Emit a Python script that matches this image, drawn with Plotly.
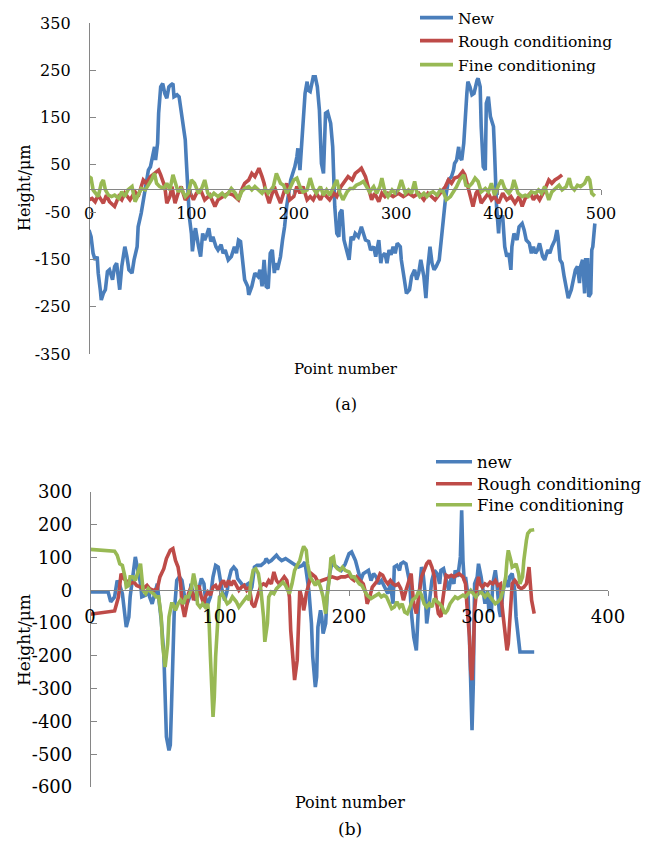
import plotly.graph_objects as go

# ---------------- (a) data ----------------
a_new_x = [0,2,4,6,8,9,11,12,14,16,18,20,23,25,27,29,30,32,35,37,39,42,44,47,48,51,53,55,58,60,
           62,64,65,67,68,70,72,74,76,78,80,82,83,86,88,90,92,94,95,97,98,100,101,103,104,107,109,111,113,115,
           117,119,121,124,126,129,131,133,136,139,142,144,146,148,151,152,155,156,159,162,165,167,169,171,173,175,177,179,181,182,
           184,187,189,191,193,195,197,200,201,203,204,206,208,209,211,213,214,216,217,219,221,223,225,226,227,229,230,231,233,234,
           236,238,239,240,242,244,245,247,249,252,254,256,258,260,263,266,268,270,273,275,278,280,283,285,286,289,291,293,295,297,
           299,301,304,305,308,310,313,315,318,320,322,324,327,329,331,333,335,337,339,342,344,346,348,351,354,356,357,359,361,362,
           364,366,367,369,370,372,374,376,379,380,382,383,385,387,388,390,392,393,395,396,397,398,400,401,404,406,408,410,412,413,
           415,418,420,423,425,427,430,432,434,436,438,440,443,445,448,450,452,455,457,458,460,462,464,466,468,471,473,475,477,479,
           480,482,484,485,487,488,490,491,492,494]
a_new_y = [-88,-102,-137,-151,-144,-179,-214,-236,-222,-214,-176,-172,-193,-165,-158,-207,-214,-165,-123,-144,-172,-179,-151,-123,-81,-52,-24,4,39,46,
           67,88,60,96,159,215,222,201,191,215,219,222,194,198,194,166,138,103,60,-10,-60,-95,-133,-95,-84,-123,-144,-95,-109,-98,
           -84,-112,-102,-123,-130,-119,-137,-130,-151,-144,-123,-137,-109,-112,-179,-193,-207,-225,-207,-179,-186,-172,-207,-151,-207,-211,-137,-130,-179,-158,
           -172,-144,-109,-81,-38,-10,18,39,46,67,85,39,96,145,201,226,208,205,215,236,236,215,166,96,53,32,96,159,162,152,
           138,88,25,-38,-95,-102,-52,-45,-109,-137,-151,-102,-109,-95,-102,-81,-95,-109,-112,-130,-123,-144,-109,-158,-144,-137,-158,-130,-140,-123,
           -137,-116,-123,-151,-193,-222,-214,-186,-172,-193,-179,-151,-186,-232,-165,-123,-158,-172,-165,-151,-109,-66,-24,18,25,39,53,60,88,67,
           60,96,145,201,226,215,198,201,229,233,215,131,46,39,180,194,152,145,131,81,18,-38,-95,-60,-60,-123,-144,-137,-172,-123,
           -95,-109,-81,-74,-88,-109,-116,-137,-123,-137,-130,-116,-144,-151,-130,-137,-123,-109,-88,-102,-151,-158,-186,-207,-232,-214,-193,-172,-165,-200,
           -165,-151,-222,-151,-151,-229,-222,-130,-123,-74]

a_rough_x = [0,3,6,9,14,17,20,25,29,32,35,40,45,48,53,56,60,64,68,70,74,76,79,81,84,87,90,94,99,102,
             105,109,113,118,123,126,131,136,141,146,149,152,156,159,162,166,169,171,173,176,178,181,183,187,190,193,196,200,203,206,
             209,213,216,219,222,226,229,232,235,239,242,246,250,253,257,260,264,266,270,273,276,279,283,286,289,292,297,302,307,312,
             317,322,327,331,333,338,343,348,351,354,357,361,365,367,370,373,375,378,380,383,387,390,393,396,400,404,408,412,416,420,
             423,426,431,434,437,440,445,449,452,455,458,462]
a_rough_y = [-24,-21,-28,-14,-31,-14,-28,-38,-17,-24,-10,-24,-7,-17,18,11,25,32,39,29,4,-31,-17,4,-31,-10,4,-24,-10,-24,
             -10,-3,-24,-14,-38,-24,-17,-10,-14,-24,-3,11,18,32,25,43,25,11,-10,-31,-17,4,-10,-31,-10,11,-24,-17,4,-10,
             4,-24,-17,-24,-10,-24,-10,-17,-24,-10,-17,4,18,25,18,32,39,43,25,-3,-24,-10,-28,-10,-17,-10,-17,-10,-17,-10,
             -17,-10,-24,-10,-14,-24,-10,4,18,11,22,25,36,29,4,-24,-38,-10,-3,-31,-17,-10,-24,-17,-31,-10,-24,-17,-31,-17,
             -38,-21,-10,-24,-14,-24,-3,18,11,18,22,29]

a_fine_x = [0,2,4,7,9,12,14,16,19,22,25,29,32,35,38,42,45,48,51,55,58,61,64,66,69,73,76,79,82,85,
            87,90,94,97,100,103,107,110,113,116,119,122,126,130,133,136,139,143,146,149,152,156,159,162,165,169,172,175,180,183,
            187,190,193,196,200,203,206,209,213,216,219,222,226,229,232,235,239,242,245,248,252,255,258,261,265,268,271,274,278,281,
            284,286,289,292,296,299,302,305,309,312,315,318,320,323,327,330,333,336,340,343,346,349,353,356,359,362,366,368,371,374,
            377,380,383,387,390,393,396,400,403,406,410,413,415,419,423,426,429,432,436,439,442,445,449,452,456,459,462,466,469,471,
            474,477,480,484,487,489,491,494]
a_fine_y = [25,22,-3,-10,-17,11,18,-3,-14,-17,-14,-21,-7,-17,-3,4,-28,-14,0,-3,7,18,32,11,4,0,11,-3,29,4,
            -7,0,-17,-10,18,11,-10,0,18,-10,-17,-10,-17,-10,-17,-10,0,-10,-24,-7,0,4,-3,4,-3,-10,0,-10,4,32,
            11,7,-10,0,18,22,4,-7,-3,22,0,-10,4,-14,-3,-14,4,18,-10,-24,-7,0,0,7,11,15,4,-7,4,-10,
            4,22,-7,-17,-3,-10,-3,18,-10,-3,-10,15,-7,-17,-10,-17,-10,-7,-14,-3,-7,-24,-17,-7,4,18,29,7,4,11,
            22,15,-7,0,-7,11,-14,7,18,0,-10,0,18,-10,-17,-14,-17,-7,-10,-3,-10,4,-24,-7,0,7,-3,4,22,4,
            -3,7,4,11,25,18,-10,-16]

# ---------------- (b) data ----------------
b_new_x = [0,6,14,16,19,21,23,25,27,28,30,31,33,34,35,37,39,40,43,45,46,48,50,52,53,55,57,58,59,61,
           62,63,64,65,67,69,71,73,75,77,78,80,82,84,86,88,89,91,93,95,97,99,100,102,104,106,107,109,111,113,
           114,116,118,120,122,124,125,127,129,132,135,136,138,140,142,144,146,148,151,153,155,157,159,161,164,166,167,169,171,172,
           174,175,176,178,179,180,182,183,185,187,189,192,194,197,200,202,203,205,207,209,211,213,215,217,219,221,223,225,227,228,
           230,232,234,235,237,239,240,242,244,245,247,248,250,252,253,254,256,257,259,260,261,263,264,266,268,270,271,273,275,277,
           279,281,282,284,286,287,288,289,290,292,293,294,295,296,297,299,300,302,304,305,307,308,310,311,313,314,316,317,319,321,
           323,324,326,328,329,331,332,335,339,343]
b_new_y = [-5,-5,-5,-35,-20,30,15,-10,-71,-112,-81,-20,41,71,102,61,20,-20,-15,5,-20,-41,-10,20,-20,-91,-193,-325,-447,-488,
           -472,-346,-163,-71,30,41,30,-20,-41,-20,20,-20,-30,10,36,20,-20,-41,-20,41,76,71,41,0,-30,0,30,61,71,61,
           36,25,15,15,20,0,10,71,76,76,86,97,86,91,100,107,97,91,97,91,86,81,76,71,76,86,61,0,-101,-203,
           -295,-264,-112,-61,-81,-132,-101,-20,51,86,76,66,61,80,112,117,107,91,61,30,51,56,61,30,51,41,20,30,15,10,
           -10,20,-41,71,76,61,81,86,81,61,20,-61,-142,-183,-101,-20,71,61,-20,-101,-71,-10,30,61,51,20,61,66,30,0,
           41,20,61,41,102,244,91,30,41,-20,-142,-295,-427,-284,20,41,81,41,-10,-41,0,-61,-61,20,61,30,-61,-81,0,30,
           10,41,51,0,-81,-152,-188,-188,-188,-188]

b_rough_x = [0,9,19,22,24,26,28,31,34,36,39,41,44,46,49,52,54,57,59,62,64,66,68,70,71,73,75,76,78,80,
             82,84,86,88,89,91,93,95,97,99,101,103,105,107,109,111,113,115,117,119,121,123,125,127,130,132,134,136,138,140,
             142,144,146,148,150,152,154,155,157,158,160,161,162,164,165,166,167,169,171,174,176,179,183,187,191,194,197,200,202,204,
             206,209,211,213,214,216,218,220,222,224,226,228,230,232,234,236,238,240,242,244,246,248,249,250,252,253,254,256,258,260,
             262,264,266,267,269,271,272,274,275,277,279,281,283,285,288,290,291,293,294,295,296,297,299,300,301,303,305,307,309,311,
             313,315,317,318,320,322,323,325,326,328,330,331,333,335,337,339,340,341,343]
b_rough_y = [-73,-69,-63,-20,51,36,30,20,25,15,10,5,15,5,0,5,41,66,97,122,127,91,71,20,-41,-81,-41,-10,10,-30,
             -10,15,-20,-41,-20,-5,-15,10,15,0,20,30,10,30,15,30,15,0,10,15,0,10,-41,-51,-10,15,20,15,30,20,
             56,30,20,30,41,30,-20,-122,-224,-274,-213,-91,0,-30,-61,-41,-10,20,51,41,25,30,36,41,36,41,41,46,36,30,
             41,30,20,-10,-41,-20,10,20,30,51,46,30,20,30,20,15,20,5,-30,0,30,51,0,-41,-71,-41,0,41,61,81,
             91,71,41,-20,-71,-81,-41,20,46,41,46,41,46,51,41,20,-41,-142,-244,-274,-193,-61,20,41,20,10,20,15,25,20,
             30,15,20,-41,-112,-183,-163,-61,20,30,20,10,5,10,20,71,10,-30,-71]

b_fine_x = [0,9,19,21,23,25,27,28,30,31,33,35,37,39,40,41,43,45,47,49,51,53,55,56,58,60,61,63,64,66,
            68,70,72,74,76,78,80,82,83,85,87,89,91,92,93,94,95,96,97,99,100,102,104,106,108,110,113,115,117,119,
            121,123,124,126,128,130,132,134,135,137,138,140,142,144,147,149,151,153,154,156,158,160,162,164,165,167,168,170,172,174,
            176,178,180,182,183,185,186,188,189,191,193,195,197,200,202,204,206,208,210,212,214,217,219,221,223,225,227,229,231,233,
            235,237,239,241,243,245,247,249,252,254,256,258,260,262,264,266,268,270,272,274,276,278,280,282,284,286,288,290,292,294,
            296,298,300,302,305,307,309,311,313,315,317,319,321,322,323,325,326,328,329,331,332,334,335,337,338,340,343]
b_fine_y = [125,122,119,107,81,76,41,10,15,41,41,30,61,81,41,0,-10,5,-5,-10,-20,-20,-81,-163,-234,-163,-81,-41,-41,-61,
            -41,-30,-41,-20,-20,0,51,10,-41,-51,-41,-51,-41,-101,-203,-325,-386,-325,-203,-71,-20,-10,-25,-41,-35,-20,-35,-51,-41,-30,
            -20,-30,20,61,66,51,0,-81,-157,-101,-20,-5,-10,5,15,25,15,0,-10,20,61,76,91,122,134,122,81,41,25,15,
            30,10,-20,-71,-20,41,97,102,76,66,61,71,61,56,41,41,30,20,15,0,-15,-25,-20,-15,-10,-20,-15,-20,-41,-56,
            -51,-35,-51,-41,-66,-71,-51,-30,-20,0,-15,-41,-51,-41,-51,-25,-35,-41,-51,-71,-61,-41,-30,-20,-25,-20,-15,-20,-10,0,
            -10,-20,-10,-5,-20,-10,-20,-30,-41,-35,-25,0,41,91,122,91,71,76,81,51,20,41,91,153,173,183,185]

names_a = ["New", "Rough conditioning", "Fine conditioning"]
names_b = ["new", "Rough conditioning", "Fine conditioning"]
colors = ["#4A7EBB", "#BE4B48", "#98B954"]

a_ytickvals = [-350, -250, -150, -50, 50, 150, 250, 350]
a_yticktext = ["-350", "-250", "-150", "-50", "50", "150", "250", "350"]
a_xtickvals = [0, 100, 200, 300, 400, 500]
b_ytickvals = [-600, -500, -400, -300, -200, -100, 0, 100, 200, 300]
b_yticktext = ["-600", "-500", "-400", "-300", "-200", "-100", "0", "100", "200", "300"]
b_xtickvals = [0, 100, 200, 300, 400]

# the page body adds an 8 px margin, so the figure is drawn 8 px smaller and
# all reference pixel positions are shifted by that offset
OFF = 8
W, H = 651 - OFF, 848 - OFF
FONT = "DejaVu Serif"
AX = "#868686"
LW = 3.6


def px_x(p):
    return (p - OFF) / W


def px_y(p):
    return 1 - (p - OFF) / H


fig = go.Figure()
series_a = [(a_new_x, a_new_y), (a_rough_x, a_rough_y), (a_fine_x, a_fine_y)]
series_b = [(b_new_x, b_new_y), (b_rough_x, b_rough_y), (b_fine_x, b_fine_y)]
legend_ids_a = ["legend", "legend2", "legend3"]
legend_ids_b = ["legend4", "legend5", "legend6"]
for i, (xs, ys) in enumerate(series_a):
    fig.add_trace(go.Scatter(x=xs, y=ys, mode="lines", name=names_a[i],
                             line=dict(color=colors[i], width=LW),
                             xaxis="x", yaxis="y", legend=legend_ids_a[i]))
for i, (xs, ys) in enumerate(series_b):
    fig.add_trace(go.Scatter(x=xs, y=ys, mode="lines", name=names_b[i],
                             line=dict(color=colors[i], width=LW),
                             xaxis="x2", yaxis="y2", legend=legend_ids_b[i]))

ax_dom = [px_x(89), px_x(601)]
ay_dom = [px_y(354), px_y(23)]
bx_dom = [px_x(90), px_x(608)]
by_dom = [px_y(787), px_y(492)]
a_zero = ay_dom[0] + (ay_dom[1] - ay_dom[0]) * 350 / 700
b_zero = by_dom[0] + (by_dom[1] - by_dom[0]) * 600 / 900

common = dict(showgrid=False, zeroline=False, showline=True, linecolor=AX, linewidth=1.3,
              tickcolor=AX, tickwidth=1.3, automargin=False)

layout = dict(
    template="none",
    width=W, height=H,
    margin=dict(l=0, r=0, t=0, b=0, pad=0, autoexpand=False),
    paper_bgcolor="white", plot_bgcolor="white",
    font=dict(family=FONT, color="black"),
    showlegend=True,
    xaxis=dict(domain=ax_dom, range=[0, 500], tickvals=a_xtickvals, anchor="free", position=a_zero,
               ticks="outside", ticklen=5, tickfont=dict(size=16, family=FONT, color="black"),
               ticklabelstandoff=5, **common),
    yaxis=dict(domain=ay_dom, range=[-350, 350], tickvals=a_ytickvals, ticktext=a_yticktext,
               anchor="free", position=ax_dom[0],
               ticks="inside", ticklen=6, tickfont=dict(size=16, family=FONT, color="black"),
               ticklabelstandoff=15, **common),
    xaxis2=dict(domain=bx_dom, range=[0, 400], tickvals=b_xtickvals, anchor="free", position=b_zero,
                ticks="outside", ticklen=5, tickfont=dict(size=18, family=FONT, color="black"),
                ticklabelstandoff=5, **common),
    yaxis2=dict(domain=by_dom, range=[-600, 300], tickvals=b_ytickvals, ticktext=b_yticktext,
                anchor="free", position=bx_dom[0],
                ticks="inside", ticklen=6, tickfont=dict(size=18, family=FONT, color="black"),
                ticklabelstandoff=14, **common),
)
rows_a = [18, 41, 65]
rows_b = [462, 484, 505]
for i, lid in enumerate(legend_ids_a):
    layout[lid] = dict(x=px_x(415), y=px_y(rows_a[i]), xanchor="left", yanchor="middle",
                       bgcolor="rgba(0,0,0,0)", borderwidth=0,
                       font=dict(size=15.5, family=FONT, color="black"), itemwidth=33)
for i, lid in enumerate(legend_ids_b):
    layout[lid] = dict(x=px_x(431), y=px_y(rows_b[i]), xanchor="left", yanchor="middle",
                       bgcolor="rgba(0,0,0,0)", borderwidth=0,
                       font=dict(size=16.5, family=FONT, color="black"), itemwidth=36)
fig.update_layout(**layout)

ann = [
    dict(text="Height/μm", x=24, y=188, textangle=-90, size=16),
    dict(text="Point number", x=346, y=369, textangle=0, size=15),
    dict(text="(a)", x=346, y=404, textangle=0, size=16),
    dict(text="Height/μm", x=24, y=640, textangle=-90, size=17),
    dict(text="Point number", x=350, y=802, textangle=0, size=16),
    dict(text="(b)", x=350, y=829, textangle=0, size=17),
]
for a in ann:
    fig.add_annotation(text=a["text"], x=px_x(a["x"]), y=px_y(a["y"]), xref="paper", yref="paper",
                       xanchor="center", yanchor="middle", showarrow=False, textangle=a["textangle"],
                       font=dict(size=a["size"], family=FONT, color="black"))

fig.write_html("out.html")
